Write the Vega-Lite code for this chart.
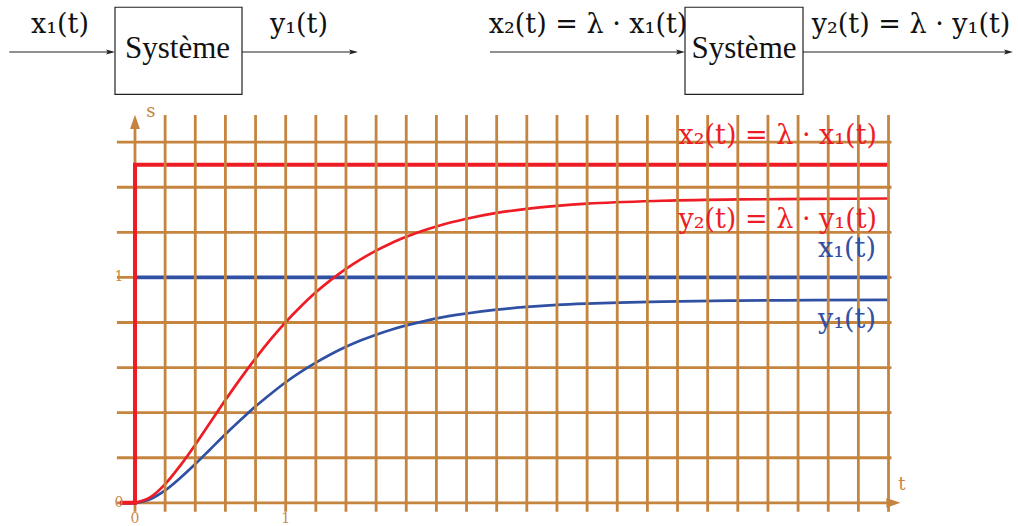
{
  "$schema": "https://vega.github.io/schema/vega-lite/v6.json",
  "width": 1018,
  "height": 526,
  "autosize": {"type": "fit", "contains": "padding"},
  "padding": 0,
  "background": "white",
  "config": {"view": {"stroke": null}},
  "datasets": {
    "grille": [
      {"sens": "axe", "t": 0, "t2": 0, "s": -0.04, "s2": 1.7},
      {"sens": "axe", "t": -0.12, "t2": 5.0, "s": 0, "s2": 0},
      {"sens": "h", "t": -0.12, "t2": 5.02, "s": 0.2, "s2": 0.2},
      {"sens": "h", "t": -0.12, "t2": 5.02, "s": 0.4, "s2": 0.4},
      {"sens": "h", "t": -0.12, "t2": 5.02, "s": 0.6, "s2": 0.6},
      {"sens": "h", "t": -0.12, "t2": 5.02, "s": 0.8, "s2": 0.8},
      {"sens": "h", "t": -0.12, "t2": 5.02, "s": 1.0, "s2": 1.0},
      {"sens": "h", "t": -0.12, "t2": 5.02, "s": 1.2, "s2": 1.2},
      {"sens": "h", "t": -0.12, "t2": 5.02, "s": 1.4, "s2": 1.4},
      {"sens": "h", "t": -0.12, "t2": 5.02, "s": 1.6, "s2": 1.6},
      {"sens": "v", "t": 0.2, "t2": 0.2, "s": -0.04, "s2": 1.72},
      {"sens": "v", "t": 0.4, "t2": 0.4, "s": -0.04, "s2": 1.72},
      {"sens": "v", "t": 0.6, "t2": 0.6, "s": -0.04, "s2": 1.72},
      {"sens": "v", "t": 0.8, "t2": 0.8, "s": -0.04, "s2": 1.72},
      {"sens": "v", "t": 1.0, "t2": 1.0, "s": -0.04, "s2": 1.72},
      {"sens": "v", "t": 1.2, "t2": 1.2, "s": -0.04, "s2": 1.72},
      {"sens": "v", "t": 1.4, "t2": 1.4, "s": -0.04, "s2": 1.72},
      {"sens": "v", "t": 1.6, "t2": 1.6, "s": -0.04, "s2": 1.72},
      {"sens": "v", "t": 1.8, "t2": 1.8, "s": -0.04, "s2": 1.72},
      {"sens": "v", "t": 2.0, "t2": 2.0, "s": -0.04, "s2": 1.72},
      {"sens": "v", "t": 2.2, "t2": 2.2, "s": -0.04, "s2": 1.72},
      {"sens": "v", "t": 2.4, "t2": 2.4, "s": -0.04, "s2": 1.72},
      {"sens": "v", "t": 2.6, "t2": 2.6, "s": -0.04, "s2": 1.72},
      {"sens": "v", "t": 2.8, "t2": 2.8, "s": -0.04, "s2": 1.72},
      {"sens": "v", "t": 3.0, "t2": 3.0, "s": -0.04, "s2": 1.72},
      {"sens": "v", "t": 3.2, "t2": 3.2, "s": -0.04, "s2": 1.72},
      {"sens": "v", "t": 3.4, "t2": 3.4, "s": -0.04, "s2": 1.72},
      {"sens": "v", "t": 3.6, "t2": 3.6, "s": -0.04, "s2": 1.72},
      {"sens": "v", "t": 3.8, "t2": 3.8, "s": -0.04, "s2": 1.72},
      {"sens": "v", "t": 4.0, "t2": 4.0, "s": -0.04, "s2": 1.72},
      {"sens": "v", "t": 4.2, "t2": 4.2, "s": -0.04, "s2": 1.72},
      {"sens": "v", "t": 4.4, "t2": 4.4, "s": -0.04, "s2": 1.72},
      {"sens": "v", "t": 4.6, "t2": 4.6, "s": -0.04, "s2": 1.72},
      {"sens": "v", "t": 4.8, "t2": 4.8, "s": -0.04, "s2": 1.72},
      {"sens": "v", "t": 5.0, "t2": 5.0, "s": -0.04, "s2": 1.72}
    ],
    "courbes": [
      {"serie": "x1", "k": 0, "t": -0.1, "s": 0},
      {"serie": "x1", "k": 1, "t": 0, "s": 0},
      {"serie": "x1", "k": 2, "t": 0, "s": 1},
      {"serie": "x1", "k": 3, "t": 5.0, "s": 1},
      {"serie": "x2", "k": 0, "t": -0.1, "s": 0},
      {"serie": "x2", "k": 1, "t": 0, "s": 0},
      {"serie": "x2", "k": 2, "t": 0, "s": 1.5},
      {"serie": "x2", "k": 3, "t": 5.0, "s": 1.5},
      {"serie": "y1", "k": 0, "t": 0, "s": 0},
      {"serie": "y1", "k": 1, "t": 0.1, "s": 0.016},
      {"serie": "y1", "k": 2, "t": 0.2, "s": 0.055},
      {"serie": "y1", "k": 3, "t": 0.3, "s": 0.11},
      {"serie": "y1", "k": 4, "t": 0.4, "s": 0.172},
      {"serie": "y1", "k": 5, "t": 0.5, "s": 0.238},
      {"serie": "y1", "k": 6, "t": 0.6, "s": 0.304},
      {"serie": "y1", "k": 7, "t": 0.7, "s": 0.367},
      {"serie": "y1", "k": 8, "t": 0.8, "s": 0.428},
      {"serie": "y1", "k": 9, "t": 0.9, "s": 0.483},
      {"serie": "y1", "k": 10, "t": 1.0, "s": 0.535},
      {"serie": "y1", "k": 11, "t": 1.1, "s": 0.581},
      {"serie": "y1", "k": 12, "t": 1.2, "s": 0.622},
      {"serie": "y1", "k": 13, "t": 1.3, "s": 0.659},
      {"serie": "y1", "k": 14, "t": 1.4, "s": 0.692},
      {"serie": "y1", "k": 15, "t": 1.5, "s": 0.721},
      {"serie": "y1", "k": 16, "t": 1.6, "s": 0.746},
      {"serie": "y1", "k": 17, "t": 1.7, "s": 0.768},
      {"serie": "y1", "k": 18, "t": 1.8, "s": 0.787},
      {"serie": "y1", "k": 19, "t": 1.9, "s": 0.803},
      {"serie": "y1", "k": 20, "t": 2.0, "s": 0.818},
      {"serie": "y1", "k": 21, "t": 2.2, "s": 0.84},
      {"serie": "y1", "k": 22, "t": 2.4, "s": 0.857},
      {"serie": "y1", "k": 23, "t": 2.6, "s": 0.869},
      {"serie": "y1", "k": 24, "t": 2.8, "s": 0.878},
      {"serie": "y1", "k": 25, "t": 3.0, "s": 0.884},
      {"serie": "y1", "k": 26, "t": 3.5, "s": 0.893},
      {"serie": "y1", "k": 27, "t": 4.0, "s": 0.897},
      {"serie": "y1", "k": 28, "t": 4.5, "s": 0.899},
      {"serie": "y1", "k": 29, "t": 5.0, "s": 0.9},
      {"serie": "y2", "k": 0, "t": 0, "s": 0},
      {"serie": "y2", "k": 1, "t": 0.1, "s": 0.024},
      {"serie": "y2", "k": 2, "t": 0.2, "s": 0.083},
      {"serie": "y2", "k": 3, "t": 0.3, "s": 0.165},
      {"serie": "y2", "k": 4, "t": 0.4, "s": 0.258},
      {"serie": "y2", "k": 5, "t": 0.5, "s": 0.357},
      {"serie": "y2", "k": 6, "t": 0.6, "s": 0.456},
      {"serie": "y2", "k": 7, "t": 0.7, "s": 0.551},
      {"serie": "y2", "k": 8, "t": 0.8, "s": 0.641},
      {"serie": "y2", "k": 9, "t": 0.9, "s": 0.725},
      {"serie": "y2", "k": 10, "t": 1.0, "s": 0.802},
      {"serie": "y2", "k": 11, "t": 1.1, "s": 0.871},
      {"serie": "y2", "k": 12, "t": 1.2, "s": 0.934},
      {"serie": "y2", "k": 13, "t": 1.3, "s": 0.989},
      {"serie": "y2", "k": 14, "t": 1.4, "s": 1.038},
      {"serie": "y2", "k": 15, "t": 1.5, "s": 1.081},
      {"serie": "y2", "k": 16, "t": 1.6, "s": 1.119},
      {"serie": "y2", "k": 17, "t": 1.7, "s": 1.152},
      {"serie": "y2", "k": 18, "t": 1.8, "s": 1.18},
      {"serie": "y2", "k": 19, "t": 1.9, "s": 1.205},
      {"serie": "y2", "k": 20, "t": 2.0, "s": 1.226},
      {"serie": "y2", "k": 21, "t": 2.2, "s": 1.26},
      {"serie": "y2", "k": 22, "t": 2.4, "s": 1.286},
      {"serie": "y2", "k": 23, "t": 2.6, "s": 1.304},
      {"serie": "y2", "k": 24, "t": 2.8, "s": 1.317},
      {"serie": "y2", "k": 25, "t": 3.0, "s": 1.327},
      {"serie": "y2", "k": 26, "t": 3.5, "s": 1.34},
      {"serie": "y2", "k": 27, "t": 4.0, "s": 1.346},
      {"serie": "y2", "k": 28, "t": 4.5, "s": 1.348},
      {"serie": "y2", "k": 29, "t": 5.0, "s": 1.35}
    ],
    "pointes": [
      {"dir": "droite", "t": 5.033, "s": 0},
      {"dir": "haut", "t": 0, "s": 1.69}
    ],
    "graduations": [
      {"t": -0.106, "s": 0, "txt": "0"},
      {"t": -0.106, "s": 1, "txt": "1"},
      {"t": 0, "s": -0.07, "txt": "0"},
      {"t": 1, "s": -0.07, "txt": "1"}
    ],
    "noms_axes": [
      {"t": 0.106, "s": 1.735, "txt": "s"},
      {"t": 5.089, "s": 0.078, "txt": "t"}
    ],
    "etiquettes": [
      {"t": 4.924, "s": 1.591, "txt": "x₂(t) = λ · x₁(t)", "couleur": "rouge"},
      {"t": 4.924, "s": 1.2186, "txt": "y₂(t) = λ · y₁(t)", "couleur": "rouge"},
      {"t": 4.917, "s": 1.0917, "txt": "x₁(t)", "couleur": "bleu"},
      {"t": 4.917, "s": 0.7748, "txt": "y₁(t)", "couleur": "bleu"}
    ],
    "blocs": [
      {"t": -0.1327, "t2": 0.71, "s": 1.8117, "s2": 2.1985},
      {"t": 3.6497, "t2": 4.4327, "s": 1.8117, "s2": 2.1985}
    ],
    "systemes": [
      {"t": 0.282, "s": 1.9735, "txt": "Système"},
      {"t": 4.041, "s": 1.9735, "txt": "Système"}
    ],
    "traits": [
      {"t": -0.8342, "t2": -0.15, "s": 2.0, "s2": 2.0},
      {"t": 0.71, "t2": 1.44, "s": 2.0, "s2": 2.0},
      {"t": 2.3557, "t2": 3.61, "s": 2.0, "s2": 2.0},
      {"t": 4.4327, "t2": 5.79, "s": 2.0, "s2": 2.0}
    ],
    "fleches": [
      {"t": -0.1626, "s": 2.0},
      {"t": 1.4499, "s": 2.0},
      {"t": 3.6198, "s": 2.0},
      {"t": 5.7963, "s": 2.0}
    ],
    "titres": [
      {"t": -0.4977, "s": 2.0838, "txt": "x₁(t)"},
      {"t": 1.0883, "s": 2.0838, "txt": "y₁(t)"},
      {"t": 3.006, "s": 2.0838, "txt": "x₂(t) = λ · x₁(t)"},
      {"t": 5.1493, "s": 2.0838, "txt": "y₂(t) = λ · y₁(t)"}
    ]
  },
  "layer": [
    {
      "data": {"name": "grille"},
      "transform": [{"filter": "datum.sens != 'v'"}],
      "mark": {"type": "rule", "color": "#c6853f", "strokeWidth": 2.8},
      "encoding": {
        "x": {"field": "t", "type": "quantitative", "axis": null, "scale": {"domain": [-0.8958, 5.8593], "nice": false, "zero": false}},
        "x2": {"field": "t2"},
        "y": {"field": "s", "type": "quantitative", "axis": null, "scale": {"domain": [-0.0895, 2.2307], "nice": false, "zero": false}},
        "y2": {"field": "s2"}
      }
    },
    {
      "data": {"name": "pointes"},
      "mark": {"type": "point", "filled": true, "opacity": 1, "size": 200, "color": "#c6853f", "strokeWidth": 0},
      "encoding": {
        "x": {"field": "t", "type": "quantitative", "axis": null},
        "y": {"field": "s", "type": "quantitative", "axis": null},
        "shape": {"field": "dir", "type": "nominal", "legend": null, "scale": {"domain": ["droite", "haut"], "range": ["M-1,-0.7L1,0L-1,0.7Z", "M-0.7,1L0,-1L0.7,1Z"]}}
      }
    },
    {
      "data": {"name": "courbes"},
      "transform": [{"filter": "datum.serie == 'x1'"}],
      "mark": {"type": "line", "color": "#3051a3", "strokeWidth": 3.7},
      "encoding": {
        "x": {"field": "t", "type": "quantitative", "axis": null},
        "y": {"field": "s", "type": "quantitative", "axis": null},
        "order": {"field": "k", "type": "quantitative"}
      }
    },
    {
      "data": {"name": "courbes"},
      "transform": [{"filter": "datum.serie == 'y1'"}],
      "mark": {"type": "line", "color": "#3051a3", "strokeWidth": 2.7, "interpolate": "monotone"},
      "encoding": {
        "x": {"field": "t", "type": "quantitative", "axis": null},
        "y": {"field": "s", "type": "quantitative", "axis": null},
        "order": {"field": "k", "type": "quantitative"}
      }
    },
    {
      "data": {"name": "courbes"},
      "transform": [{"filter": "datum.serie == 'y2'"}],
      "mark": {"type": "line", "color": "#ee1d25", "strokeWidth": 2.7, "interpolate": "monotone"},
      "encoding": {
        "x": {"field": "t", "type": "quantitative", "axis": null},
        "y": {"field": "s", "type": "quantitative", "axis": null},
        "order": {"field": "k", "type": "quantitative"}
      }
    },
    {
      "data": {"name": "courbes"},
      "transform": [{"filter": "datum.serie == 'x2'"}],
      "mark": {"type": "line", "color": "#ee1d25", "strokeWidth": 4},
      "encoding": {
        "x": {"field": "t", "type": "quantitative", "axis": null},
        "y": {"field": "s", "type": "quantitative", "axis": null},
        "order": {"field": "k", "type": "quantitative"}
      }
    },
    {
      "data": {"name": "grille"},
      "transform": [{"filter": "datum.sens == 'v'"}],
      "mark": {"type": "rule", "color": "#c6853f", "strokeWidth": 2.8},
      "encoding": {
        "x": {"field": "t", "type": "quantitative", "axis": null},
        "x2": {"field": "t2"},
        "y": {"field": "s", "type": "quantitative", "axis": null},
        "y2": {"field": "s2"}
      }
    },
    {
      "data": {"name": "graduations"},
      "mark": {"type": "text", "font": "DejaVu Serif", "fontSize": 14, "color": "#c98a48", "align": "center", "baseline": "middle"},
      "encoding": {
        "x": {"field": "t", "type": "quantitative", "axis": null},
        "y": {"field": "s", "type": "quantitative", "axis": null},
        "text": {"field": "txt"}
      }
    },
    {
      "data": {"name": "noms_axes"},
      "mark": {"type": "text", "font": "DejaVu Serif", "fontSize": 18, "color": "#c6853f", "align": "center", "baseline": "middle"},
      "encoding": {
        "x": {"field": "t", "type": "quantitative", "axis": null},
        "y": {"field": "s", "type": "quantitative", "axis": null},
        "text": {"field": "txt"}
      }
    },
    {
      "data": {"name": "etiquettes"},
      "mark": {"type": "text", "font": "DejaVu Serif", "fontSize": 27, "align": "right", "baseline": "alphabetic"},
      "encoding": {
        "x": {"field": "t", "type": "quantitative", "axis": null},
        "y": {"field": "s", "type": "quantitative", "axis": null},
        "text": {"field": "txt"},
        "color": {"field": "couleur", "type": "nominal", "legend": null, "scale": {"domain": ["rouge", "bleu"], "range": ["#ee1d25", "#3051a3"]}}
      }
    },
    {
      "data": {"name": "traits"},
      "mark": {"type": "rule", "color": "#222222", "strokeWidth": 1.2},
      "encoding": {
        "x": {"field": "t", "type": "quantitative", "axis": null},
        "x2": {"field": "t2"},
        "y": {"field": "s", "type": "quantitative", "axis": null},
        "y2": {"field": "s2"}
      }
    },
    {
      "data": {"name": "fleches"},
      "mark": {"type": "point", "filled": true, "opacity": 1, "size": 81, "color": "#222222", "strokeWidth": 0, "shape": "M-1,-0.55L1,0L-1,0.55L-0.6,0Z"},
      "encoding": {
        "x": {"field": "t", "type": "quantitative", "axis": null},
        "y": {"field": "s", "type": "quantitative", "axis": null}
      }
    },
    {
      "data": {"name": "blocs"},
      "mark": {"type": "rect", "fill": "white", "stroke": "#222222", "strokeWidth": 1.2},
      "encoding": {
        "x": {"field": "t", "type": "quantitative", "axis": null},
        "x2": {"field": "t2"},
        "y": {"field": "s", "type": "quantitative", "axis": null},
        "y2": {"field": "s2"}
      }
    },
    {
      "data": {"name": "systemes"},
      "mark": {"type": "text", "font": "Liberation Serif", "fontSize": 31, "color": "#111111", "align": "center", "baseline": "alphabetic"},
      "encoding": {
        "x": {"field": "t", "type": "quantitative", "axis": null},
        "y": {"field": "s", "type": "quantitative", "axis": null},
        "text": {"field": "txt"}
      }
    },
    {
      "data": {"name": "titres"},
      "mark": {"type": "text", "font": "DejaVu Serif", "fontSize": 27, "color": "#111111", "align": "center", "baseline": "alphabetic"},
      "encoding": {
        "x": {"field": "t", "type": "quantitative", "axis": null},
        "y": {"field": "s", "type": "quantitative", "axis": null},
        "text": {"field": "txt"}
      }
    }
  ]
}
